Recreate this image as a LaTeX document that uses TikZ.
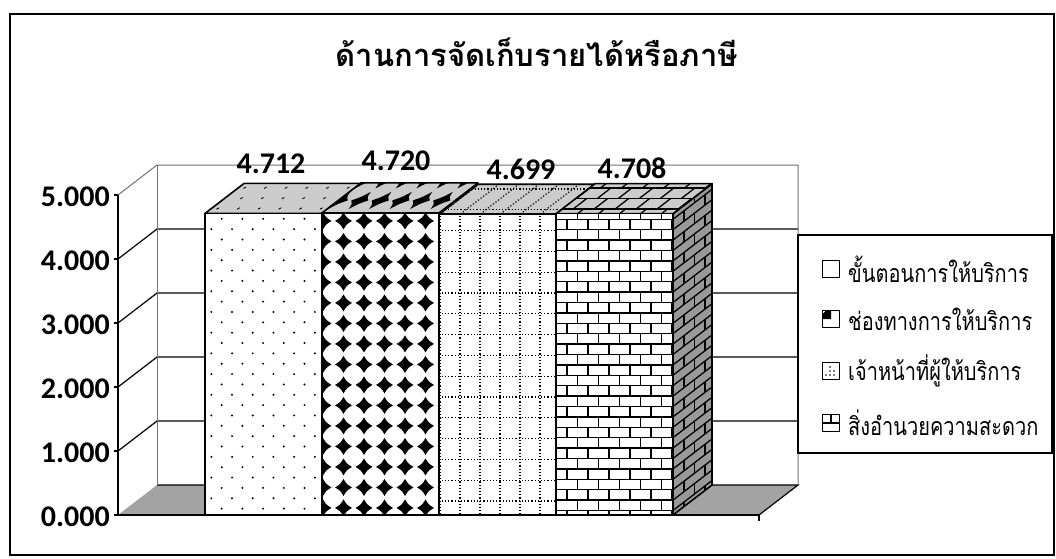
\documentclass[tikz,border=0pt]{standalone}
\usepackage{fontspec}
\setmainfont{Carlito}
\newfontfamily\thaifont[Script=Thai]{Loma}
\definecolor{topgray}{gray}{0.80}
\definecolor{sidegray}{gray}{0.60}
\definecolor{floorgray}{gray}{0.64}
\definecolor{lightline}{gray}{0.45}

% fill patterns, drawn in the local frame of one bar (y runs down)
\newcommand{\dotpat}{%
  \foreach \j in {0,...,34}{%
    \pgfmathsetmacro{\off}{mod(\j,2)*10.35}
    \foreach \i in {0,...,6}
      \fill (\i*20.7+\off-4,\j*10.35-36) circle (1.1pt);}}
\newcommand{\starpat}{%
  \foreach \j in {0,...,17}{%
    \foreach \i in {0,...,6}{%
      \pgfmathsetmacro{\sx}{\i*20.5+1}
      \pgfmathsetmacro{\sy}{\j*20.5-33}
      \fill (\sx,\sy-8.5) .. controls (\sx+3.2,\sy-3.2) .. (\sx+8.5,\sy)
        .. controls (\sx+3.2,\sy+3.2) .. (\sx,\sy+8.5)
        .. controls (\sx-3.2,\sy+3.2) .. (\sx-8.5,\sy)
        .. controls (\sx-3.2,\sy-3.2) .. (\sx,\sy-8.5) -- cycle;}}}
\newcommand{\gridpat}{%
  \foreach \i in {0,...,6} \draw[dotline] (\i*20+1,-40) -- (\i*20+1,320);
  \foreach \j in {0,...,17} \draw[dotline] (-10,\j*20.8-46) -- (130,\j*20.8-46);}
\newcommand{\brickpat}{%
  \foreach \k in {0,...,34}{%
    \pgfmathsetmacro{\off}{mod(\k,2)*10.5}
    \draw[mortar] (-10,\k*10.4-36) -- (140,\k*10.4-36);
    \foreach \i in {0,...,7}
      \draw[mortar] (\i*21+\off-10,\k*10.4-36) -- ++(0,10.4);}}

\begin{document}
\begin{tikzpicture}[x=1pt,y=-1pt,
  barline/.style={draw=black,line width=1.6pt,line join=round},
  gridl/.style={draw=black,line width=1.2pt},
  dotline/.style={line width=1.2pt,dash pattern=on 1.2pt off 2pt},
  mortar/.style={line width=1.3pt},
  ticklab/.style={font=\bfseries\fontsize{30}{30}\selectfont,anchor=east,inner sep=0pt},
  vallab/.style={font=\bfseries\fontsize{30}{30}\selectfont,inner sep=0pt},
  legtext/.style={font=\thaifont\fontsize{25}{25}\selectfont,anchor=west,inner sep=0pt},
  legkey/.style={draw,line width=1.2pt,minimum size=17pt,inner sep=0pt}]
\useasboundingbox (0,0) rectangle (1056,558);
\fill[white] (0,0) rectangle (1056,558);
\draw[line width=1.4pt] (10,14) rectangle (1054,555);

\node[font=\thaifont\bfseries\fontsize{31}{31}\selectfont] (title) at (537,52) {ด้านการจัดเก็บรายได้หรือภาษี};

% walls and floor
\fill[floorgray] (118,515) -- (157,485) -- (798,485) -- (759,515) -- cycle;
\draw[gridl] (157,485) -- (798,485) -- (759,515);
\foreach \v in {1,...,4}
  \draw[gridl] (118,515-64*\v) -- (157,485-64*\v) -- (798,485-64*\v);
\draw[lightline,line width=1pt] (118,195) -- (157,165) -- (798,165) -- (798,485);
\draw[lightline,line width=1pt] (157,165) -- (157,485);
\draw[gridl] (118,195) -- (118,515) -- (759,515) -- (759,521);
\foreach \v in {0,...,5}{
  \draw[gridl] (114,515-64*\v) -- (118,515-64*\v);
  \node[ticklab] (t\v) at (110,517-64*\v) {\v.000};
}

% bars
\foreach \xl/\val/\pat in {205/4.712/\dotpat,322/4.720/\starpat,439/4.699/\gridpat,556/4.708/\brickpat}{
  \pgfmathsetmacro{\yt}{515-64*\val}
  \pgfmathsetmacro{\h}{515-\yt}
  \ifdim\xl pt>500pt
    \begin{scope}[shift={(\xl+117,\yt)},yslant=0.769]
      \fill[sidegray] (0,0) rectangle (39,\h);
      \begin{scope} \clip (0,0) rectangle (39,\h); \pat \end{scope}
      \draw[barline] (0,0) rectangle (39,\h);
    \end{scope}
  \fi
  \begin{scope}[shift={(\xl,\yt)},xslant=1.3]
    \fill[topgray] (0,0) rectangle (117,-30);
    \begin{scope} \clip (0,0) rectangle (117,-30); \pat \end{scope}
    \draw[barline] (0,0) rectangle (117,-30);
  \end{scope}
  \begin{scope}[shift={(\xl,\yt)}]
    \fill[white] (0,0) rectangle (117,\h);
    \begin{scope} \clip (0,0) rectangle (117,\h); \pat \end{scope}
    \draw[barline] (0,0) rectangle (117,\h);
  \end{scope}
}

\node[vallab] (v1) at (271,164) {4.712};
\node[vallab] (v2) at (396,161) {4.720};
\node[vallab] (v3) at (521,169) {4.699};
\node[vallab] (v4) at (632,168) {4.708};

% legend
\draw[fill=white,line width=1.4pt] (798,235) rectangle (1052,453);
\node[legkey] (k1) at (831,269) {};
\node[legkey,path picture={
  \begin{scope}[shift={(path picture bounding box.south east)}]
    \fill (0,-17) .. controls (-6,-6) .. (-17,0) -- (0,0) -- cycle;
  \end{scope}}] (k2) at (831,319) {};
\node[legkey] (k3) at (831,371) {};
\foreach \p in {(-1,-4),(-1,0),(-1,4),(3,4),(-5,4),(3,0)}
  \fill ([shift={\p}]k3.center) circle (0.9pt);
\node[legkey] (k4) at (831,423) {};
\draw[line width=1.2pt] (k4.west) -- (k4.east) (k4.north) -- (k4.center);
\node[legtext] (l1) at (848,269) {\scalebox{0.8}[1]{ขั้นตอนการให้บริการ}};
\node[legtext] (l2) at (848,319) {\scalebox{0.8}[1]{ช่องทางการให้บริการ}};
\node[legtext] (l3) at (848,371) {\scalebox{0.8}[1]{เจ้าหน้าที่ผู้ให้บริการ}};
\node[legtext] (l4) at (848,423) {\scalebox{0.8}[1]{สิ่งอำนวยความสะดวก}};
\end{tikzpicture}
\end{document}
